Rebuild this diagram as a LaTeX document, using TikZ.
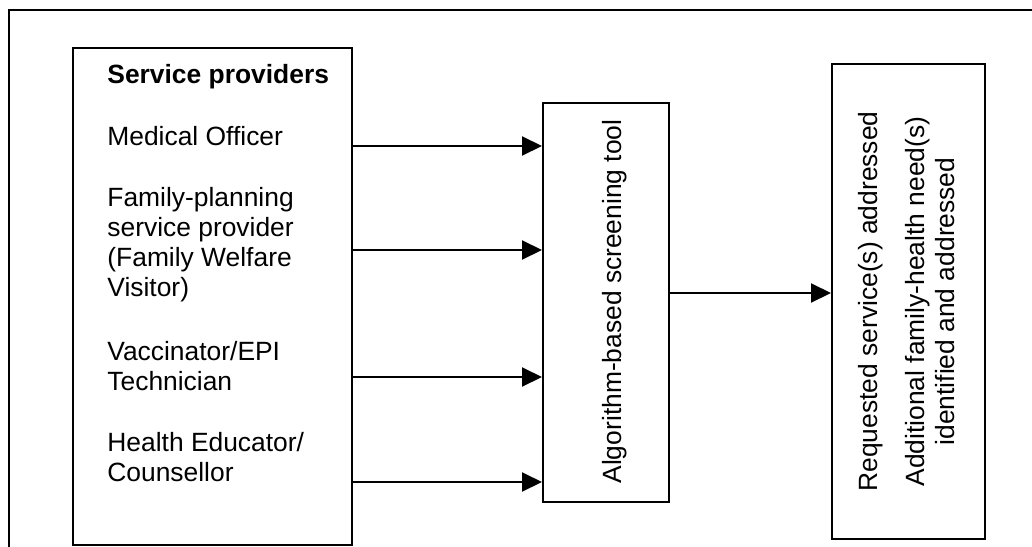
\documentclass[tikz,border=0pt]{standalone}
\usepackage{fontspec}
\setmainfont{Liberation Sans}
\usetikzlibrary{arrows.meta}

\tikzset{
  box/.style={draw,line width=1pt,inner sep=0pt},
  item/.style={anchor=base west,align=left,inner sep=0pt},
  feed/.style={line width=1pt,-{Triangle[length=10pt,width=9.5pt]}}
}

\begin{document}
\begin{tikzpicture}[x=0.5pt,y=-0.5pt,font=\fontsize{13.2}{15}\selectfont]
    \useasboundingbox (0,0) rectangle (1032,546);
    \clip (0,0) rectangle (1032,546);

    % Outer frame (runs off the right and bottom edges)
    \draw[line width=1pt] (1060,10) -- (9,10) -- (9,580);

    % Three boxes
    \node[box,minimum width=139.5pt,minimum height=248.5pt] (providers) at (212.5,296.5) {};
    \node[box,minimum width=63pt,minimum height=199.5pt]    (tool)      at (606,302.5)   {};
    \node[box,minimum width=76.5pt,minimum height=237.5pt]  (outcome)   at (908.5,301.5) {};

    % Provider list (base = last line)
    \node[item,font=\fontsize{13.2}{15}\selectfont\bfseries] (head) at (107,83.3) {Service providers};
    \node[item] (medic)   at (107,145)   {Medical Officer};
    \node[item] (fwv)     at (107,296.7) {Family-planning\\service provider\\(Family Welfare\\Visitor)};
    \node[item] (epi)     at (107,390.7) {Vaccinator/EPI\\Technician};
    \node[item] (educ)    at (107,481.7) {Health Educator/\\Counsellor};

    % Box texts
    \node[rotate=90,inner sep=0pt] (tooltext) at (614.8,301.5) {Algorithm-based screening tool};
    \node[rotate=90,align=center,inner sep=0pt] (outtext) at (906.4,301.5)
        {Requested service(s) addressed\\[8.5pt]Additional family-health need(s)\\identified and addressed};

    % Connectors
    \foreach \y [count=\i] in {146,250,377,482} {
        \coordinate (f\i) at (0,\y);
        \draw[feed] (providers.east |- f\i) -- (tool.west |- f\i);
    }
    \coordinate (g) at (0,293);
    \draw[feed] (tool.east |- g) -- (outcome.west |- g);
\end{tikzpicture}
\end{document}
